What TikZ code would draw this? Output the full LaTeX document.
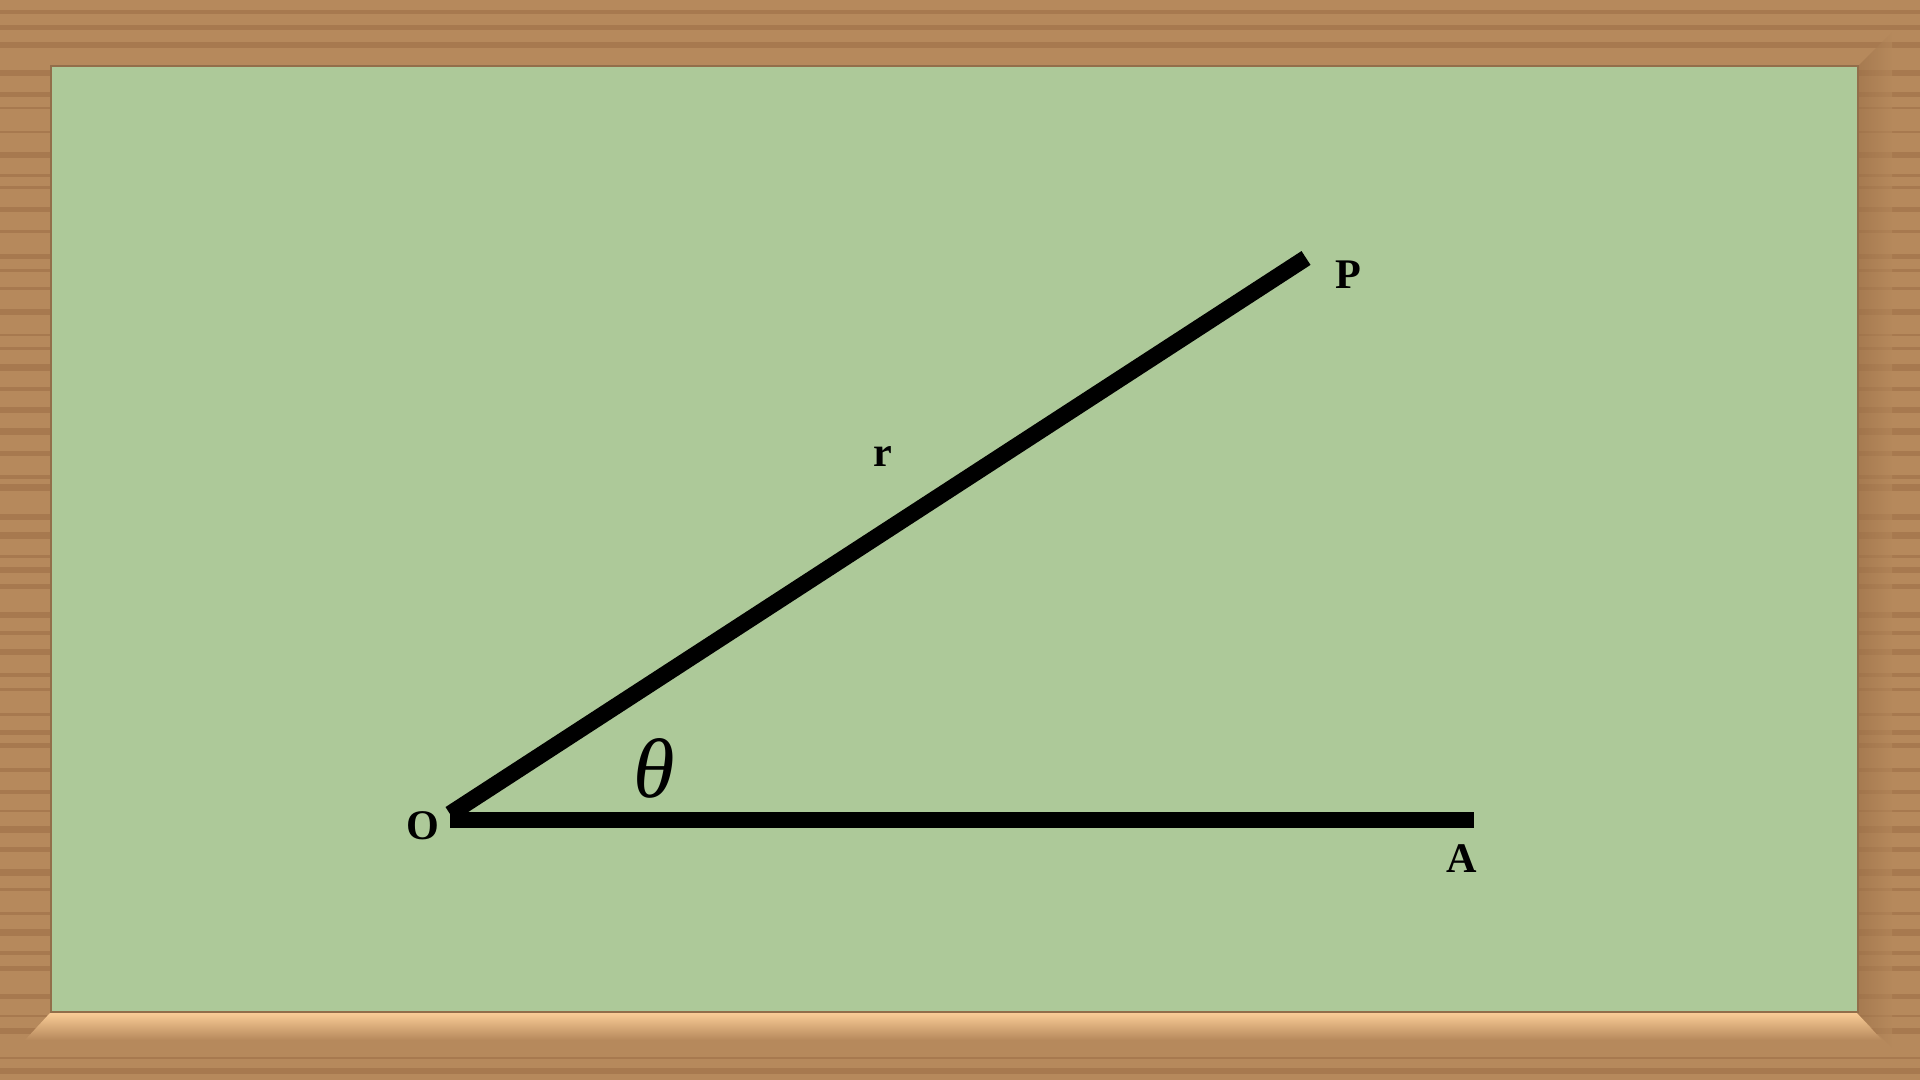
\documentclass[tikz,border=0pt]{standalone}
\usepackage{fontspec}
\setmainfont{Liberation Serif}
\usepackage{tikz}
\usetikzlibrary{positioning,calc}
\definecolor{woodbase}{RGB}{182,137,92}
\definecolor{wooddark}{RGB}{164,118,76}
\definecolor{woodlight}{RGB}{250,204,150}
\definecolor{woodshade}{RGB}{155,112,72}
\definecolor{boardgreen}{RGB}{173,201,153}
\tikzset{
  %% Wood grain stripes
  woodstripe/.style={draw=none, fill=wooddark, opacity=0.8},
  %% Board rays
  ray/.style={line width=4.7pt, black, line cap=butt},
  %% Point labels
  ptlabel/.style={font=\fontsize{12}{12}\selectfont\bfseries, inner sep=0pt},
  anglabel/.style={font=\fontsize{24}{24}\selectfont\itshape, inner sep=0pt},
}
\begin{document}
\begin{tikzpicture}
  \useasboundingbox (0,0) rectangle (19.2,10.8);

  %% Wooden frame
  \fill[woodbase] (0,0) rectangle (19.2,10.8);
  \pgfmathsetseed{5}
  \foreach \i in {0,...,53}{
    \pgfmathsetmacro{\yy}{\i*0.2+rnd*0.12}
    \pgfmathsetmacro{\hh}{0.02+rnd*0.05}
    \fill[woodstripe] (0,\yy) rectangle (19.2,\yy+\hh);
  }
  \shade[top color=woodlight, bottom color=woodbase]
    (0.50,0.67) -- (18.57,0.67) -- (18.82,0.40) -- (0.25,0.40) -- cycle;
  \shade[left color=woodshade, right color=woodbase, opacity=0.6]
    (18.57,0.67) -- (18.57,10.13) -- (18.92,10.48) -- (18.92,0.32) -- cycle;

  %% Green board
  \node[draw=woodbase!80!black, line width=0.6pt, fill=boardgreen,
        minimum width=18.07cm, minimum height=9.46cm, inner sep=0pt,
        anchor=south west] (board) at (0.50,0.67) {};

  %% Points
  \coordinate (O) at (4.50,2.60);
  \coordinate (A) at (14.74,2.60);
  \coordinate (P) at (13.06,8.22);
  \coordinate (Od) at (4.50,2.66);

  \draw[ray] (O) -- (A);
  \draw[ray] (Od) -- (P);

  \node[ptlabel] (lblO) at (4.23,2.54) {O};
  \node[ptlabel] (lblA) at (14.62,2.21) {A};
  \node[ptlabel] (lblP) at (13.48,8.05) {P};
  \node[ptlabel] (lblr) at (8.83,6.23) {r};
  \node[anglabel] (lblth) at (6.54,3.12) {θ};

\end{tikzpicture}
\end{document}
